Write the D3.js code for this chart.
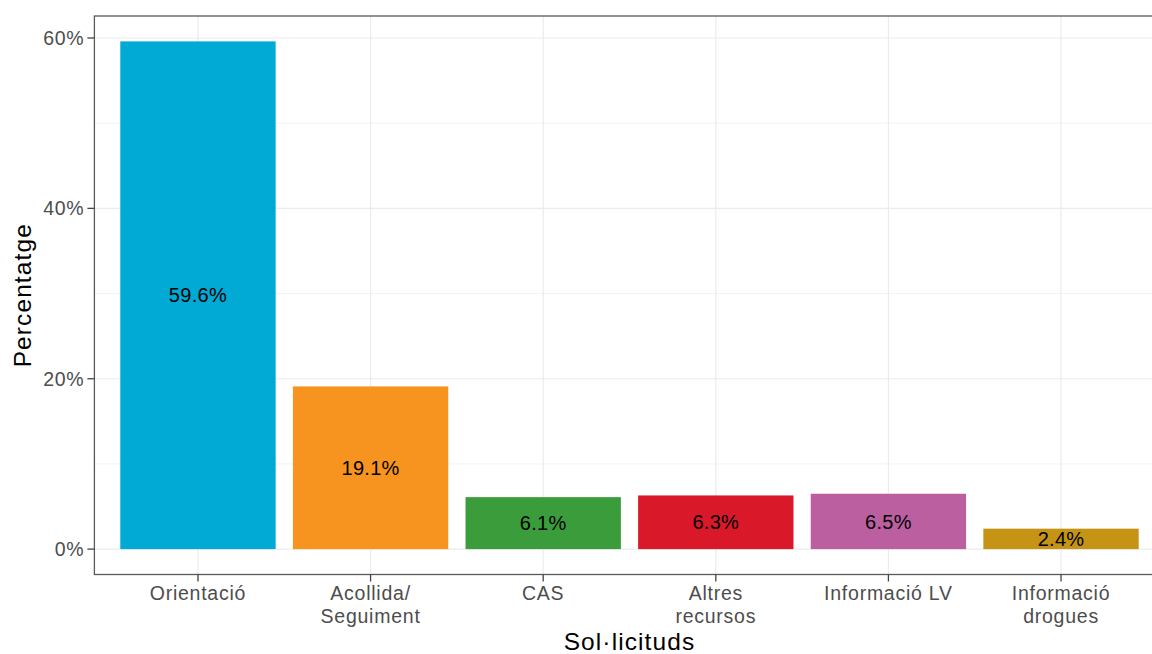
<!DOCTYPE html>
<html><head><meta charset="utf-8">
<script src="https://cdn.jsdelivr.net/npm/d3@7"></script>
<style>body{margin:0;background:#fff}svg{display:block;font-family:"Liberation Sans",Arial,sans-serif}</style>
</head><body><svg id="c" width="1152" height="654"></svg>
<script>
const categories = [["Orientació"],["Acollida/","Seguiment"],["CAS"],["Altres","recursos"],["Informació LV"],["Informació","drogues"]];
const values = [59.6, 19.1, 6.1, 6.3, 6.5, 2.4];
const colors = ["#00AAD5","#F6941F","#3A9C3A","#D9182A","#BB5FA0","#C59414"];
const yTicks = [0, 20, 40, 60];
const yMinor = [10, 30, 50];

(function(){
const svg = d3.select("#c");
const pL = 94.4, pR = 1164.6, pT = 16, pB = 574.5;
const keys = categories.map((c,i)=>i);
const unit = (pR-pL)/6.2;
const x = d3.scalePoint().domain(keys).range([pL+0.6*unit, pR-0.6*unit]);
const cx = i => x(i);
const bw = 0.9*unit;
const y = d3.scaleLinear().domain([-2.98, 62.58]).range([pB, pT]);

// grid
svg.append("g").selectAll("line").data(yMinor).join("line")
  .attr("x1",pL).attr("x2",pR).attr("y1",d=>y(d)).attr("y2",d=>y(d))
  .attr("stroke","#EBEBEB").attr("stroke-width",0.6);
svg.append("g").selectAll("line").data(yTicks).join("line")
  .attr("x1",pL).attr("x2",pR).attr("y1",d=>y(d)).attr("y2",d=>y(d))
  .attr("stroke","#EBEBEB").attr("stroke-width",1.2);
svg.append("g").selectAll("line").data(keys).join("line")
  .attr("x1",d=>cx(d)).attr("x2",d=>cx(d)).attr("y1",pT).attr("y2",pB)
  .attr("stroke","#EBEBEB").attr("stroke-width",1.2);

// bars
svg.append("g").selectAll("rect").data(values).join("rect")
  .attr("x",(d,i)=>cx(i)-bw/2).attr("width",bw)
  .attr("y",d=>y(d)).attr("height",d=>y(0)-y(d))
  .attr("fill",(d,i)=>colors[i]);

// labels
svg.append("g").selectAll("text").data(values).join("text")
  .attr("x",(d,i)=>cx(i)).attr("y",d=>y(d/2)).attr("dy","0.36em")
  .attr("text-anchor","middle").attr("font-size",20).attr("fill","#000")
  .attr("letter-spacing",0.3)
  .text(d=>d.toFixed(1)+"%");

// border
svg.append("rect").attr("x",pL).attr("y",pT).attr("width",pR-pL).attr("height",pB-pT)
  .attr("fill","none").attr("stroke","#5a5a5a").attr("stroke-width",1.3);

// y axis
const yg = svg.append("g");
yg.selectAll("line").data(yTicks).join("line")
  .attr("x1",pL-7).attr("x2",pL).attr("y1",d=>y(d)).attr("y2",d=>y(d))
  .attr("stroke","#444").attr("stroke-width",1.3);
yg.selectAll("text").data(yTicks).join("text")
  .attr("x",pL-10).attr("y",d=>y(d)).attr("dy","0.36em").attr("text-anchor","end")
  .attr("font-size",19.5).attr("letter-spacing",0.7).attr("fill","#4D4D4D").text(d=>d+"%");

// x axis
const xg = svg.append("g");
xg.selectAll("line").data(keys).join("line")
  .attr("x1",d=>cx(d)).attr("x2",d=>cx(d)).attr("y1",pB).attr("y2",pB+7)
  .attr("stroke","#444").attr("stroke-width",1.3);
const xt = xg.selectAll("text").data(categories).join("text")
  .attr("text-anchor","middle").attr("font-size",19.5).attr("letter-spacing",0.75).attr("fill","#4D4D4D");
xt.each(function(lines,i){
  d3.select(this).selectAll("tspan").data(lines).join("tspan")
    .attr("x",cx(i)).attr("y",(l,j)=>600+j*23).text(l=>l);
});

// titles
svg.append("text").attr("x",(pL+pR)/2).attr("y",650).attr("text-anchor","middle")
  .attr("font-size",24.5).attr("letter-spacing",1.1).attr("fill","#000").text("Sol·licituds");
svg.append("text").attr("transform",`translate(31,${(pT+pB)/2}) rotate(-90)`)
  .attr("text-anchor","middle").attr("font-size",24.5).attr("letter-spacing",1.1).attr("fill","#000").text("Percentatge");
})();
</script></body></html>
